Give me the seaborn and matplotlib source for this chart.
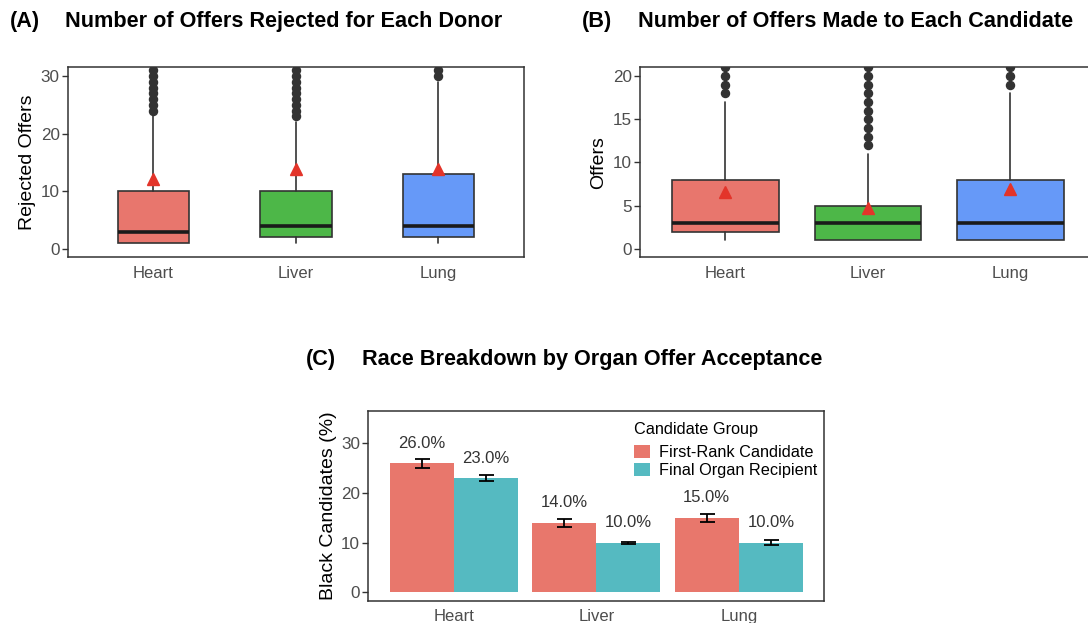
import matplotlib
matplotlib.use("Agg")
import matplotlib.pyplot as plt
from matplotlib.patches import Patch
import pandas as pd
import seaborn as sns

sns.set_theme(style="white")
plt.rcParams["font.family"] = ["Liberation Sans", "DejaVu Sans"]
plt.rcParams["text.color"] = "black"
plt.rcParams["axes.labelcolor"] = "black"

organs = ["Heart", "Liver", "Lung"]
box_colors = ["#E8766D", "#4DB748", "#6699F8"]

# (A) rejected offers per donor -- box summaries
rej_q1 = [1, 2, 2]
rej_med = [3, 4, 4]
rej_q3 = [10, 10, 13]
rej_lo = [1, 1, 1]
rej_hi = [23, 22, 29]
rej_mean = [12.2, 13.9, 13.8]
rej_out = [
    [24, 25, 26, 27, 28, 29, 30, 31],
    [23, 24, 25, 26, 27, 28, 29, 30, 31],
    [30, 31],
]

# (B) offers made to each candidate
off_q1 = [2, 1, 1]
off_med = [3, 3, 3]
off_q3 = [8, 5, 8]
off_lo = [1, 1, 1]
off_hi = [17, 11, 18]
off_mean = [6.6, 4.7, 6.9]
off_out = [
    [18, 19, 20, 21],
    [12, 13, 14, 15, 16, 17, 18, 19, 20, 21],
    [19, 20, 21],
]

# (C) black candidates (%)
groups = ["First-Rank Candidate", "Final Organ Recipient"]
bar_colors = ["#E8776C", "#55BAC1"]
first_pct = [26.0, 14.0, 15.0]
final_pct = [23.0, 10.0, 10.0]
first_err = [0.9, 0.75, 0.85]
final_err = [0.55, 0.2, 0.45]

EDGE = "#333333"
TICK = "#4D4D4D"


def style_axes(ax):
    for s in ax.spines.values():
        s.set_color(EDGE)
        s.set_linewidth(1.1)
    ax.tick_params(axis="y", length=4.5, width=1, color=EDGE, pad=1.5,
                   labelsize=12.3, labelcolor=TICK, left=True)
    ax.tick_params(axis="x", length=0, pad=6, labelsize=12, labelcolor=TICK)
    ax.grid(False)


def draw_box(ax, q1, med, q3, lo, hi, means, outliers, width):
    stats = []
    for i in range(len(organs)):
        stats.append(dict(q1=q1[i], med=med[i], q3=q3[i], whislo=lo[i],
                          whishi=hi[i], fliers=outliers[i], mean=means[i]))
    bp = ax.bxp(stats, positions=range(len(organs)), widths=width,
                patch_artist=True, showcaps=False, showmeans=True,
                boxprops=dict(edgecolor=EDGE, linewidth=1.2),
                whiskerprops=dict(color=EDGE, linewidth=1.2),
                medianprops=dict(color="#1A1A1A", linewidth=2.6),
                flierprops=dict(marker="o", markerfacecolor=EDGE,
                                markeredgecolor=EDGE, markersize=5.8),
                meanprops=dict(marker="^", markerfacecolor="#E3342A",
                               markeredgecolor="#E3342A", markersize=8))
    for patch, c in zip(bp["boxes"], box_colors):
        patch.set_facecolor(c)
    ax.set_xticks(range(len(organs)), organs)
    ax.set_xlim(-0.6, 2.6)


fig = plt.figure(figsize=(10.88, 6.23), dpi=100)

# panel A
axA = fig.add_axes([0.0625, 0.5867, 0.4191, 0.305])
draw_box(axA, rej_q1, rej_med, rej_q3, rej_lo, rej_hi, rej_mean, rej_out, 0.5)
axA.set_ylim(-1.5, 31.5)
axA.set_yticks([0, 10, 20, 30])
axA.set_ylabel("Rejected Offers", fontsize=14, labelpad=3)
style_axes(axA)

# panel B
axB = fig.add_axes([0.5882, 0.5867, 0.4191, 0.305])
draw_box(axB, off_q1, off_med, off_q3, off_lo, off_hi, off_mean, off_out, 0.75)
axB.set_ylim(-1, 21)
axB.set_yticks([0, 5, 10, 15, 20])
axB.set_ylabel("Offers", fontsize=14, labelpad=4)
style_axes(axB)

# panel C
df = pd.DataFrame({
    "organ": organs * 2,
    "group": [groups[0]] * 3 + [groups[1]] * 3,
    "pct": first_pct + final_pct,
})
axC = fig.add_axes([0.3385, 0.0358, 0.4191, 0.305])
sns.barplot(data=df, x="organ", y="pct", hue="group", hue_order=groups,
            palette=bar_colors, errorbar=None, width=0.9, saturation=1,
            linewidth=0, legend=False, ax=axC)
bars = list(axC.containers)
for cont, vals, errs in zip(bars, [first_pct, final_pct], [first_err, final_err]):
    for bar, v, e in zip(cont, vals, errs):
        xc = bar.get_x() + bar.get_width() / 2
        axC.errorbar(xc, v, yerr=e, color="black", capsize=5.4,
                     elinewidth=1.3, capthick=1.3)
        axC.text(xc, v + 4, f"{v:.1f}%", ha="center", va="center",
                 fontsize=12, color="#333333")
axC.set_xlim(-0.6, 2.6)
axC.set_ylim(-1.7, 36.6)
axC.set_yticks([0, 10, 20, 30])
axC.set_xlabel("")
axC.set_ylabel("Black Candidates (%)", fontsize=14, labelpad=3)
style_axes(axC)
handles = [Patch(facecolor=c, edgecolor="none") for c in bar_colors]
leg = axC.legend(handles, groups, title="Candidate Group", loc="upper left",
                 bbox_to_anchor=(0.583, 0.94), frameon=False, fontsize=11.7,
                 title_fontsize=11.7, alignment="left", borderpad=0,
                 handlelength=1.0, handleheight=0.9, handletextpad=0.55,
                 labelspacing=0.15, borderaxespad=0)
leg._legend_box.sep = 5.5  # a bit more room under the legend title

# panel titles
title_kw = dict(fontsize=15.6, fontweight="bold", va="center", color="black")
fig.text(0.0092, 0.9647, "(A)", **title_kw)
fig.text(0.0597, 0.9647, "Number of Offers Rejected for Each Donor", **title_kw)
fig.text(0.535, 0.9647, "(B)", **title_kw)
fig.text(0.5864, 0.9647, "Number of Offers Made to Each Candidate", **title_kw)
fig.text(0.2813, 0.4222, "(C)", **title_kw)
fig.text(0.3324, 0.4222, "Race Breakdown by Organ Offer Acceptance", **title_kw)

fig.savefig("out.png", dpi=100)
